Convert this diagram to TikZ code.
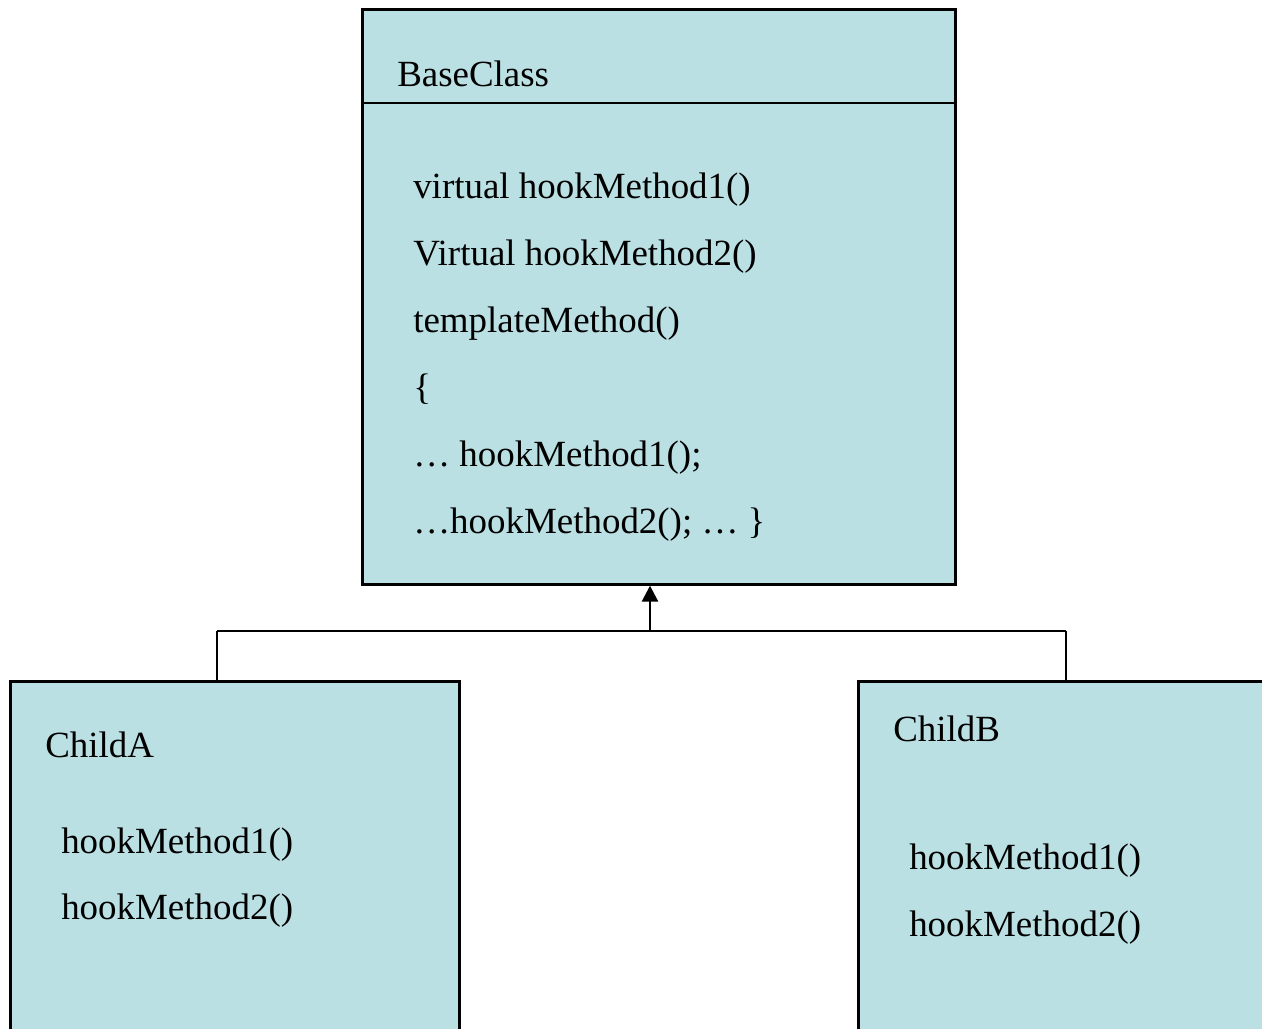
\documentclass[tikz,border=0pt]{standalone}
\usepackage{fontspec}
\setmainfont{Liberation Serif}
\usetikzlibrary{arrows.meta}
\definecolor{boxfill}{RGB}{186,224,227}
\begin{document}
\begin{tikzpicture}[x=0.75pt,y=-0.75pt,
  classbox/.style={draw=black,fill=boxfill,line width=2pt,rectangle,anchor=north west,inner sep=0pt},
  txt/.style={anchor=base west,inner sep=0pt,font=\fontsize{27.7}{30}\selectfont},
  link/.style={draw=black,line width=2pt}]
\useasboundingbox (0,0) rectangle (1262,1028);
\begin{scope}
\clip (0,0) rectangle (1262,1028);
% BaseClass
\node[classbox,minimum width=593*0.75pt,minimum height=575*0.75pt] (base) at (361,8) {};
\coordinate (divL) at (361,103);
\coordinate (divR) at (954,103);
\draw[link] (divL) -- (divR);
% children
\node[classbox,minimum width=449*0.75pt,minimum height=380*0.75pt] (childA) at (9,680) {};
\node[classbox,minimum width=430*0.75pt,minimum height=380*0.75pt] (childB) at (857,680) {};
\end{scope}
% texts
\node[txt] (tBase) at (397,86) {BaseClass};
\node[txt] (t1) at (413,198) {virtual hookMethod1()};
\node[txt] (t2) at (413,265) {Virtual hookMethod2()};
\node[txt] (t3) at (413,332) {templateMethod()};
\node[txt] (t4) at (413,399) {\{};
\node[txt] (t5) at (413,466) {… hookMethod1();};
\node[txt] (t6) at (413,533) {…hookMethod2(); … \}};
\node[txt] (tA) at (45,757) {ChildA};
\node[txt] (tA1) at (61,853) {hookMethod1()};
\node[txt] (tA2) at (61,919) {hookMethod2()};
\node[txt] (tB) at (893,741) {ChildB};
\node[txt] (tB1) at (909,869) {hookMethod1()};
\node[txt] (tB2) at (909,936) {hookMethod2()};
% connectors
\coordinate (junc) at (650,631);
\coordinate (jA) at (217,631);
\coordinate (jB) at (1066,631);
\draw[link] (jA) -- (jB);
\draw[link] (jA) -- (jA |- childA.north);
\draw[link] (jB) -- (jB |- childB.north);
\draw[link,-{Triangle[length=12pt,width=12pt]}] (junc) -- (junc |- base.south);
\end{tikzpicture}
\end{document}
